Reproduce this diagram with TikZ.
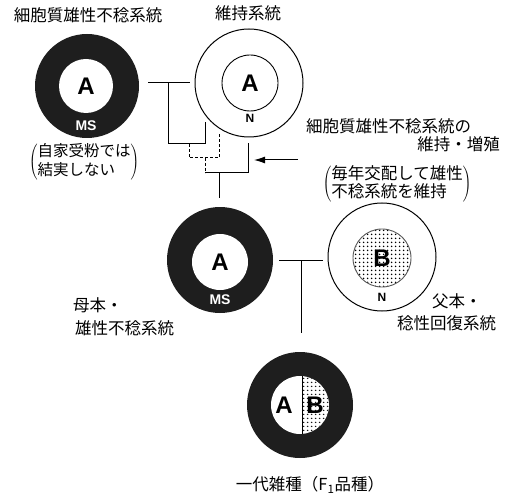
\documentclass[tikz,border=0pt]{standalone}
\usepackage{fontspec}
\setmainfont{Noto Sans CJK JP}
\newfontfamily\lat{Liberation Sans}
\usetikzlibrary{patterns.meta,arrows.meta}
\definecolor{ringc}{HTML}{1E1E1E}
\begin{document}
\begin{tikzpicture}[x=1pt,y=-1pt,
  ring/.style={circle,fill=ringc,inner sep=0},
  hole/.style={circle,fill=white,inner sep=0,font=\lat\bfseries\fontsize{24}{24}\selectfont},
  outer/.style={circle,draw,line width=1pt,inner sep=0},
  inner/.style={circle,draw,line width=0.9pt,inner sep=0,font=\lat\bfseries\fontsize{24}{24}\selectfont},
  dotted in/.style={pattern={Dots[distance=4pt,radius=0.95pt]}},
  mslbl/.style={font=\lat\bfseries\fontsize{14}{14}\selectfont,text=white,inner sep=0},
  nlbl/.style={font=\lat\bfseries\fontsize{12}{12}\selectfont,inner sep=0},
  jp/.style={font=\fontsize{16.5}{18}\selectfont,inner sep=0},
  jppar/.style={font=\fontsize{15.5}{18}\selectfont,inner sep=0},
  jppar2/.style={font=\fontsize{16.5}{16.5}\selectfont,inner sep=0},
  conn/.style={line width=1pt},
  dconn/.style={line width=1pt,dash pattern=on 3pt off 2pt}]
\useasboundingbox (0,0) rectangle (513,494);
\fill[white] (0,0) rectangle (513,494);

% ---- top left: cytoplasmic male sterile line
\node[ring,minimum size=104pt] (ms1) at (87,86) {};
\node[hole,minimum size=54pt] (ms1in) at (86,86) {A};
\node[mslbl] (ms1lbl) at (86,126) {MS};
\node[jp] (t1) at (88,15) {細胞質雄性不稔系統};
\node[jppar] (p1) at (84,162) {$\left(\vcenter{\hbox{\begin{tabular}{@{}l@{}}自家受粉では\\結実しない\end{tabular}}}\right)$};

% ---- top right: maintainer line
\node[outer,minimum size=108pt] (n1) at (249,83) {};
\node[inner,minimum size=56pt] (n1in) at (250,83) {A};
\node[nlbl] (n1lbl) at (250,118) {N};
\node[jp] (t2) at (248,13) {維持系統};

% ---- middle: mother
\node[ring,minimum size=106pt] (ms2) at (220,260) {};
\node[hole,minimum size=56pt] (ms2in) at (220,262) {A};
\node[mslbl] (ms2lbl) at (220,300) {MS};
\node[jp,anchor=west] (t5) at (73,305) {母本・};
\node[jp,anchor=west] (t6) at (75,328) {雄性不稔系統};

% ---- middle right: father
\node[outer,minimum size=108pt] (n2) at (382,257) {};
\node[inner,draw=black!65,dotted in,minimum size=58pt] (n2in) at (382,258) {};
\node[font=\lat\bfseries\fontsize{24}{24}\selectfont,inner sep=0] (n2b) at (382,258) {B};
\node[nlbl] (n2lbl) at (382,297) {N};
\node[jp,anchor=west] (t7) at (432,301) {父本・};
\node[jp,anchor=west] (t8) at (397,323) {稔性回復系統};

% ---- bottom: F1
\node[ring,minimum size=106pt] (f1) at (300,405) {};
\node[hole,minimum size=58pt] (f1in) at (300,405) {};
\begin{scope}
  \clip (302,370) rectangle (340,440);
  \fill[pattern={Dots[distance=4pt,radius=0.95pt]}] (f1in.center) circle (29pt);
\end{scope}
\draw[line width=1pt] (f1in.north -| 302,0) -- (f1in.south -| 302,0);
\node[font=\lat\bfseries\fontsize{24}{24}\selectfont,inner sep=0] (f1a) at (284,405) {A};
\node[font=\lat\bfseries\fontsize{24}{24}\selectfont,inner sep=0] (f1b) at (315,405) {B};
\node[jp] (t9) at (310,485) {一代雑種（F\textsubscript{1}品種）};

% ---- right texts
\node[jp,anchor=west] (t3) at (306,126) {細胞質雄性不稔系統の};
\node[jp,anchor=east] (t4) at (500,144) {維持・増殖};
\node[jppar2] (p2) at (397,184) {$\left(\vcenter{\hbox{\begin{tabular}{@{}l@{}}毎年交配して雄性\\不稔系統を維持\end{tabular}}}\right)$};

% ---- connectors
\coordinate (h1) at (148,83); \coordinate (h2) at (190,83);
\coordinate (j1) at (168,83); \coordinate (k1) at (168,144);
\coordinate (k2) at (205,144); \coordinate (e1) at (205,122);
\draw[conn] (h1) -- (h2);
\draw[conn] (j1) -- (k1) -- (k2) -- (e1);

\coordinate (d1) at (189,144); \coordinate (d2) at (189,158);
\coordinate (d3) at (219,158); \coordinate (e2) at (219,133);
\coordinate (d4) at (205,158); \coordinate (d5) at (205,173);
\draw[dconn] (d1) -- (d2) -- (d3) -- (e2);
\draw[dconn] (d4) -- (d5);

\coordinate (s2) at (248,173); \coordinate (e3) at (248,143);
\coordinate (s1) at (219,173); \coordinate (s3) at (219,198);
\draw[conn] (d5) -- (s2) -- (e3);
\draw[conn] (s1) -- (s3);

\coordinate (ar1) at (298,160); \coordinate (ar2) at (254,160);
\draw[conn,-{Latex[length=11pt,width=7pt]}] (ar1) -- (ar2);

\coordinate (b1) at (279,260); \coordinate (b2) at (323,260);
\coordinate (b3) at (301,260); \coordinate (b4) at (301,333);
\draw[conn] (b1) -- (b2);
\draw[conn] (b3) -- (b4);
\end{tikzpicture}
\end{document}
